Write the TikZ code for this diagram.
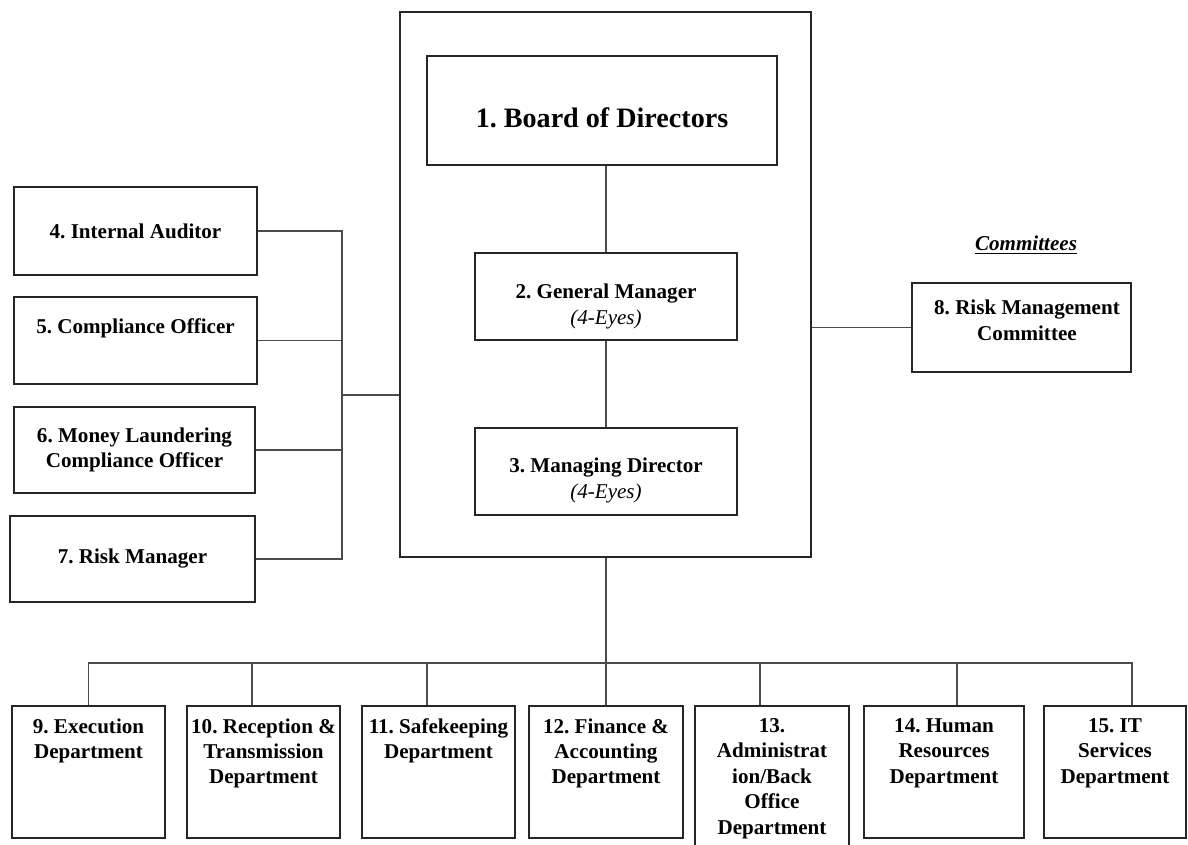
\documentclass[tikz,border=0pt]{standalone}
\usepackage{fontspec}
\setmainfont{Liberation Serif}
\frenchspacing
\newcommand{\unitfont}{\fontsize{12}{14.5}\selectfont\bfseries}
\newcommand{\boardfont}{\fontsize{16}{19}\selectfont\bfseries}

\tikzset{
  unit/.style={draw=black!85, line width=1pt, rectangle, inner sep=0pt},
  txt/.style={align=center, font=\unitfont},
  link/.style={draw=black!70, line width=1pt},
}

\begin{document}
\begin{tikzpicture}[x=0.02cm, y=-0.02cm]
    \useasboundingbox (0,0) rectangle (1188,845);
    \clip (0,0) rectangle (1188,845);
    % board and management
    \node[unit, minimum width=8.22cm, minimum height=10.9cm] (outer) at (605.5,284.5) {};
    \node[unit, minimum width=7cm, minimum height=2.18cm,
      label={[font=\boardfont, yshift=-0.14cm]center:{1. Board of Directors}}] (b1) at (602,110.5) {};
    \node[unit, minimum width=5.24cm, minimum height=1.74cm,
      label={[txt, yshift=-0.2cm]center:{2. General Manager\\{\mdseries\itshape (4-Eyes)}}}] (b2) at (606,296.5) {};
    \node[unit, minimum width=5.24cm, minimum height=1.74cm,
      label={[txt, yshift=-0.18cm]center:{3. Managing Director\\{\mdseries\itshape (4-Eyes)}}}] (b3) at (606,471.5) {};
    % control functions
    \node[unit, minimum width=4.86cm, minimum height=1.76cm,
      label={[txt]center:{4. Internal Auditor}}] (b4) at (135.5,231) {};
    \node[unit, minimum width=4.86cm, minimum height=1.74cm,
      label={[txt, yshift=0.25cm]center:{5. Compliance Officer}}] (b5) at (135.5,340.5) {};
    \node[unit, minimum width=4.82cm, minimum height=1.72cm,
      label={[txt]center:{6. Money Laundering\\Compliance Officer}}] (b6) at (134.5,450) {};
    \node[unit, minimum width=4.9cm, minimum height=1.72cm,
      label={[txt]center:{7. Risk Manager}}] (b7) at (132.5,559) {};
    % committees
    \node[font=\unitfont\itshape] (cmt) at (1026,245) {\underline{Committees}};
    \node[unit, minimum width=4.38cm, minimum height=1.78cm,
      label={[txt, xshift=0.11cm, yshift=0.14cm]center:{8. Risk Management\\Committee}}] (b8) at (1021.5,327.5) {};
    % departments
    \node[unit, minimum width=3.06cm, minimum height=2.64cm,
      label={[txt, below=4pt]north:{9. Execution\\Department}}] (b9) at (88.5,772) {};
    \node[unit, minimum width=3.06cm, minimum height=2.64cm,
      label={[txt, below=4pt]north:{10. Reception \&\\Transmission\\Department}}] (b10) at (263.5,772) {};
    \node[unit, minimum width=3.06cm, minimum height=2.64cm,
      label={[txt, below=4pt]north:{11. Safekeeping\\Department}}] (b11) at (438.5,772) {};
    \node[unit, minimum width=3.08cm, minimum height=2.64cm,
      label={[txt, below=4pt]north:{12. Finance \&\\Accounting\\Department}}] (b12) at (606,772) {};
    \node[unit, minimum width=3.08cm, minimum height=2.92cm,
      label={[txt, below=4pt]north:{13.\\Administrat\\ion/Back\\Office\\Department}}] (b13) at (772,779) {};
    \node[unit, minimum width=3.2cm, minimum height=2.64cm,
      label={[txt, below=4pt]north:{14. Human\\Resources\\Department}}] (b14) at (944,772) {};
    \node[unit, minimum width=2.84cm, minimum height=2.64cm,
      label={[txt, below=4pt]north:{15. IT\\Services\\Department}}] (b15) at (1115,772) {};
    % connectors
    \coordinate (lbus) at (342,395);
    \coordinate (bus) at (606,663);
    \draw[link] (b2.north) -- (b2.north |- b1.south);
    \draw[link] (b2.south) -- (b3.north);
    \draw[link] (lbus) -- (lbus -| outer.west);
    \draw[link] (b4.east) -| (lbus);
    \draw[link] (b5.east) -| (lbus);
    \draw[link] (b6.east) -| (lbus);
    \draw[link] (b7.east) -| (lbus);
    \draw[link] (b8.west) -- (b8.west -| outer.east);
    \draw[link] (outer.south -| bus) -- (bus);
    \draw[link] (b9.north) |- (bus);
    \draw[link] ([xshift=-0.23cm]b10.north) |- (bus);
    \draw[link] ([xshift=-0.23cm]b11.north) |- (bus);
    \draw[link] (b12.north) -- (bus);
    \draw[link] ([xshift=-0.24cm]b13.north) |- (bus);
    \draw[link] ([xshift=0.26cm]b14.north) |- (bus);
    \draw[link] ([xshift=0.34cm]b15.north) |- (bus);
\end{tikzpicture}
\end{document}
